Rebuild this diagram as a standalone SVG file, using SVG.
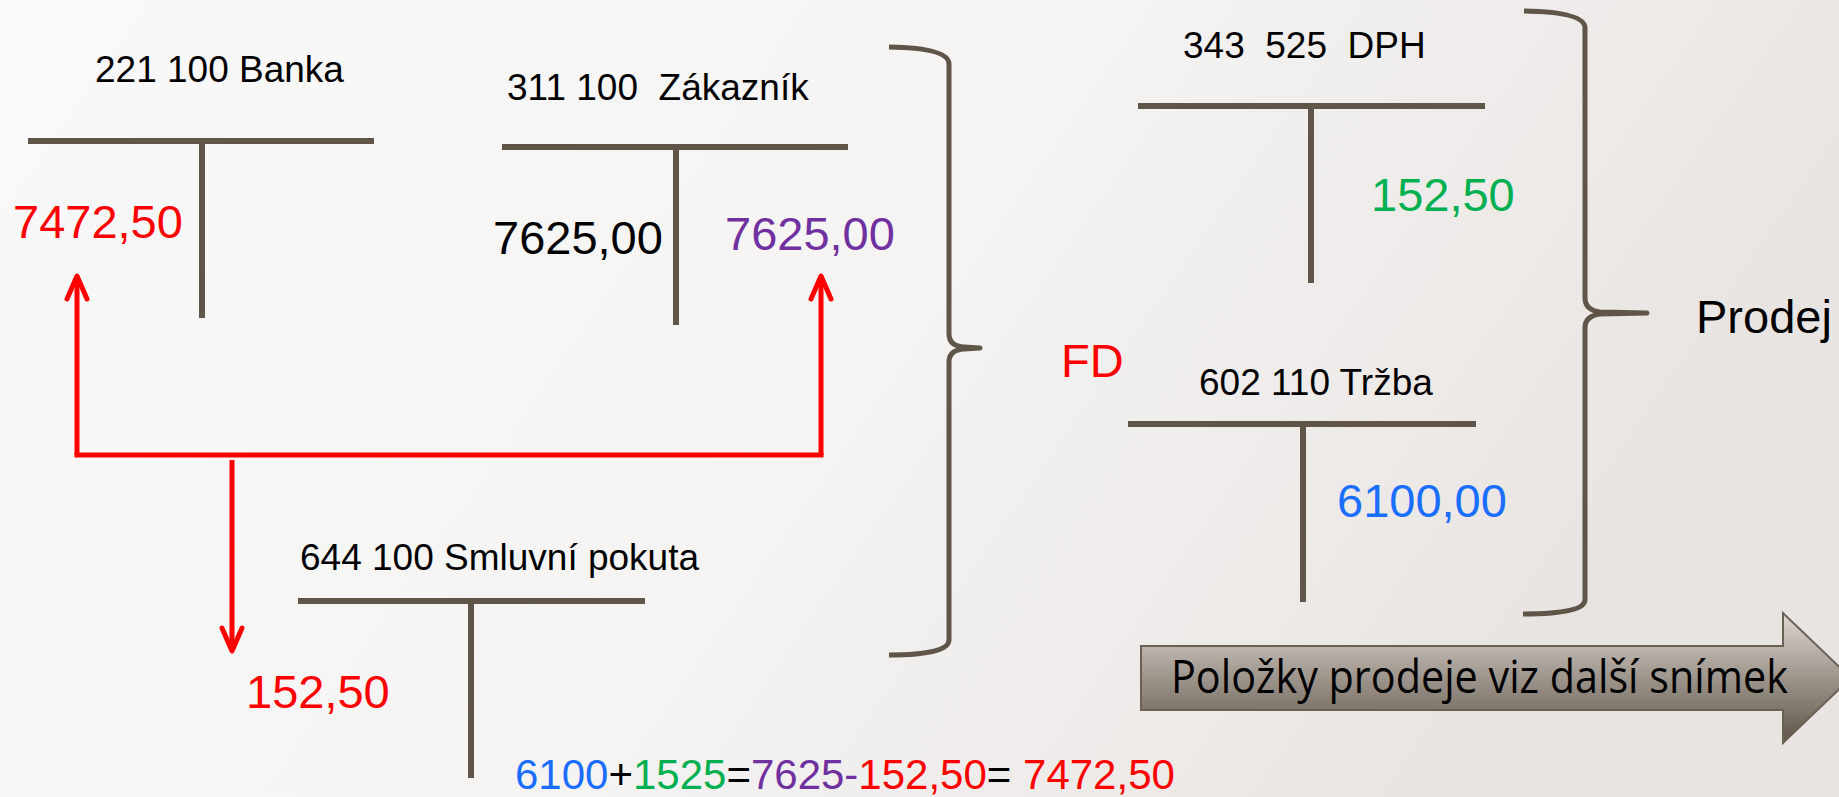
<svg xmlns="http://www.w3.org/2000/svg" width="1839" height="797" viewBox="0 0 1839 797">
  <defs>
    <linearGradient id="bg" x1="0" y1="0" x2="1" y2="0.3">
      <stop offset="0" stop-color="#f9f9f9"/>
      <stop offset="0.55" stop-color="#f5f4f3"/>
      <stop offset="1" stop-color="#e8e4e1"/>
    </linearGradient>
    <linearGradient id="arrowFill" x1="0" y1="0" x2="0" y2="1">
      <stop offset="0" stop-color="#ddd7d1"/>
      <stop offset="1" stop-color="#5e5448"/>
    </linearGradient>
    <marker id="vhead" markerUnits="userSpaceOnUse" markerWidth="30" markerHeight="30" refX="23" refY="12" orient="auto" overflow="visible">
      <path d="M0,2 L23,12 L0,22" fill="none" stroke="#ff0000" stroke-width="5" stroke-linecap="round" stroke-linejoin="round"/>
    </marker>
    <style>
      .tl { stroke: #5f5549; stroke-width: 6; fill: none; }
      .brace { stroke: #5f5549; stroke-width: 5; fill: none; stroke-linejoin: round; }
      .title { font-family: "Liberation Sans", Arial, sans-serif; font-size: 37px; fill: #000000; }
      .num { font-family: "Liberation Sans", Arial, sans-serif; font-size: 47px; }
      .red { fill: #ff0000; }
      .purple { fill: #7030a0; }
      .green { fill: #00b050; }
      .blue { fill: #1a6eff; }
      .black { fill: #000000; }
      .conn { stroke: #ff0000; stroke-width: 5; fill: none; }
    </style>
  </defs>

  <rect x="0" y="0" width="1839" height="797" fill="url(#bg)"/>

  <g id="acc-221100-banka">
    <text class="title" x="95" y="82">221 100 Banka</text>
    <line class="tl" x1="28" y1="141" x2="374" y2="141"/>
    <line class="tl" x1="202" y1="141" x2="202" y2="318"/>
    <text class="num red" x="13" y="238">7472,50</text>
  </g>

  <g id="acc-311100-zakaznik">
    <text class="title" x="507" y="100" xml:space="preserve">311 100  Zákazník</text>
    <line class="tl" x1="502" y1="147" x2="848" y2="147"/>
    <line class="tl" x1="676" y1="147" x2="676" y2="325"/>
    <text class="num black" x="493" y="254">7625,00</text>
    <text class="num purple" x="725" y="250">7625,00</text>
  </g>

  <g id="acc-343525-dph">
    <text class="title" x="1183" y="58" xml:space="preserve">343  525  DPH</text>
    <line class="tl" x1="1138" y1="106" x2="1485" y2="106"/>
    <line class="tl" x1="1311" y1="106" x2="1311" y2="283"/>
    <text class="num green" x="1371" y="211">152,50</text>
  </g>

  <g id="acc-602110-trzba">
    <text class="title" x="1199" y="395">602 110 Tržba</text>
    <line class="tl" x1="1128" y1="424" x2="1476" y2="424"/>
    <line class="tl" x1="1303" y1="424" x2="1303" y2="602"/>
    <text class="num blue" x="1337" y="517">6100,00</text>
  </g>

  <g id="acc-644100-smluvni-pokuta">
    <text class="title" x="300" y="570">644 100 Smluvní pokuta</text>
    <line class="tl" x1="298" y1="601" x2="645" y2="601"/>
    <line class="tl" x1="471" y1="601" x2="471" y2="778"/>
    <text class="num red" x="246" y="708">152,50</text>
  </g>

  <g id="brace-fd">
    <path class="brace" d="M889,47 Q949,48 949,64 L949,334 Q949,346 964,347 L980,348 L964,349 Q949,350 949,362 L949,640 Q949,655 889,655"/>
    <text class="num red" x="1061" y="377">FD</text>
  </g>

  <g id="brace-prodej">
    <path class="brace" d="M1524,11 Q1585,12 1585,28 L1585,298 Q1585,310 1600,312 L1647,313 L1600,314 Q1585,316 1585,328 L1585,600 Q1585,614 1523,614"/>
    <text class="num black" x="1696" y="333">Prodej</text>
  </g>

  <g id="connectors">
    <line class="conn" x1="74.5" y1="455" x2="823.5" y2="455"/>
    <line class="conn" x1="77" y1="455" x2="77" y2="276" marker-end="url(#vhead)"/>
    <line class="conn" x1="821" y1="455" x2="821" y2="276" marker-end="url(#vhead)"/>
    <line class="conn" x1="232" y1="460" x2="232" y2="651" marker-end="url(#vhead)"/>
  </g>

  <g id="next-slide-arrow">
    <polygon points="1141,646 1783,646 1783,613 1851,678 1783,743 1783,710 1141,710" fill="url(#arrowFill)" stroke="#6a6054" stroke-width="2"/>
    <text x="1171" y="693" font-family="'Open Sans', 'Noto Sans', sans-serif" font-size="46" fill="#000000" textLength="617" lengthAdjust="spacingAndGlyphs">Položky prodeje viz další snímek</text>
  </g>

  <g id="formula">
    <text x="515" y="789" font-family="'Liberation Sans', Arial, sans-serif" font-size="42"><tspan fill="#1a6eff">6100</tspan><tspan fill="#000000">+</tspan><tspan fill="#00b050">1525</tspan><tspan fill="#000000">=</tspan><tspan fill="#7030a0">7625-</tspan><tspan fill="#ff0000">152,50</tspan><tspan fill="#000000">= </tspan><tspan fill="#ff0000">7472,50</tspan></text>
  </g>
</svg>
